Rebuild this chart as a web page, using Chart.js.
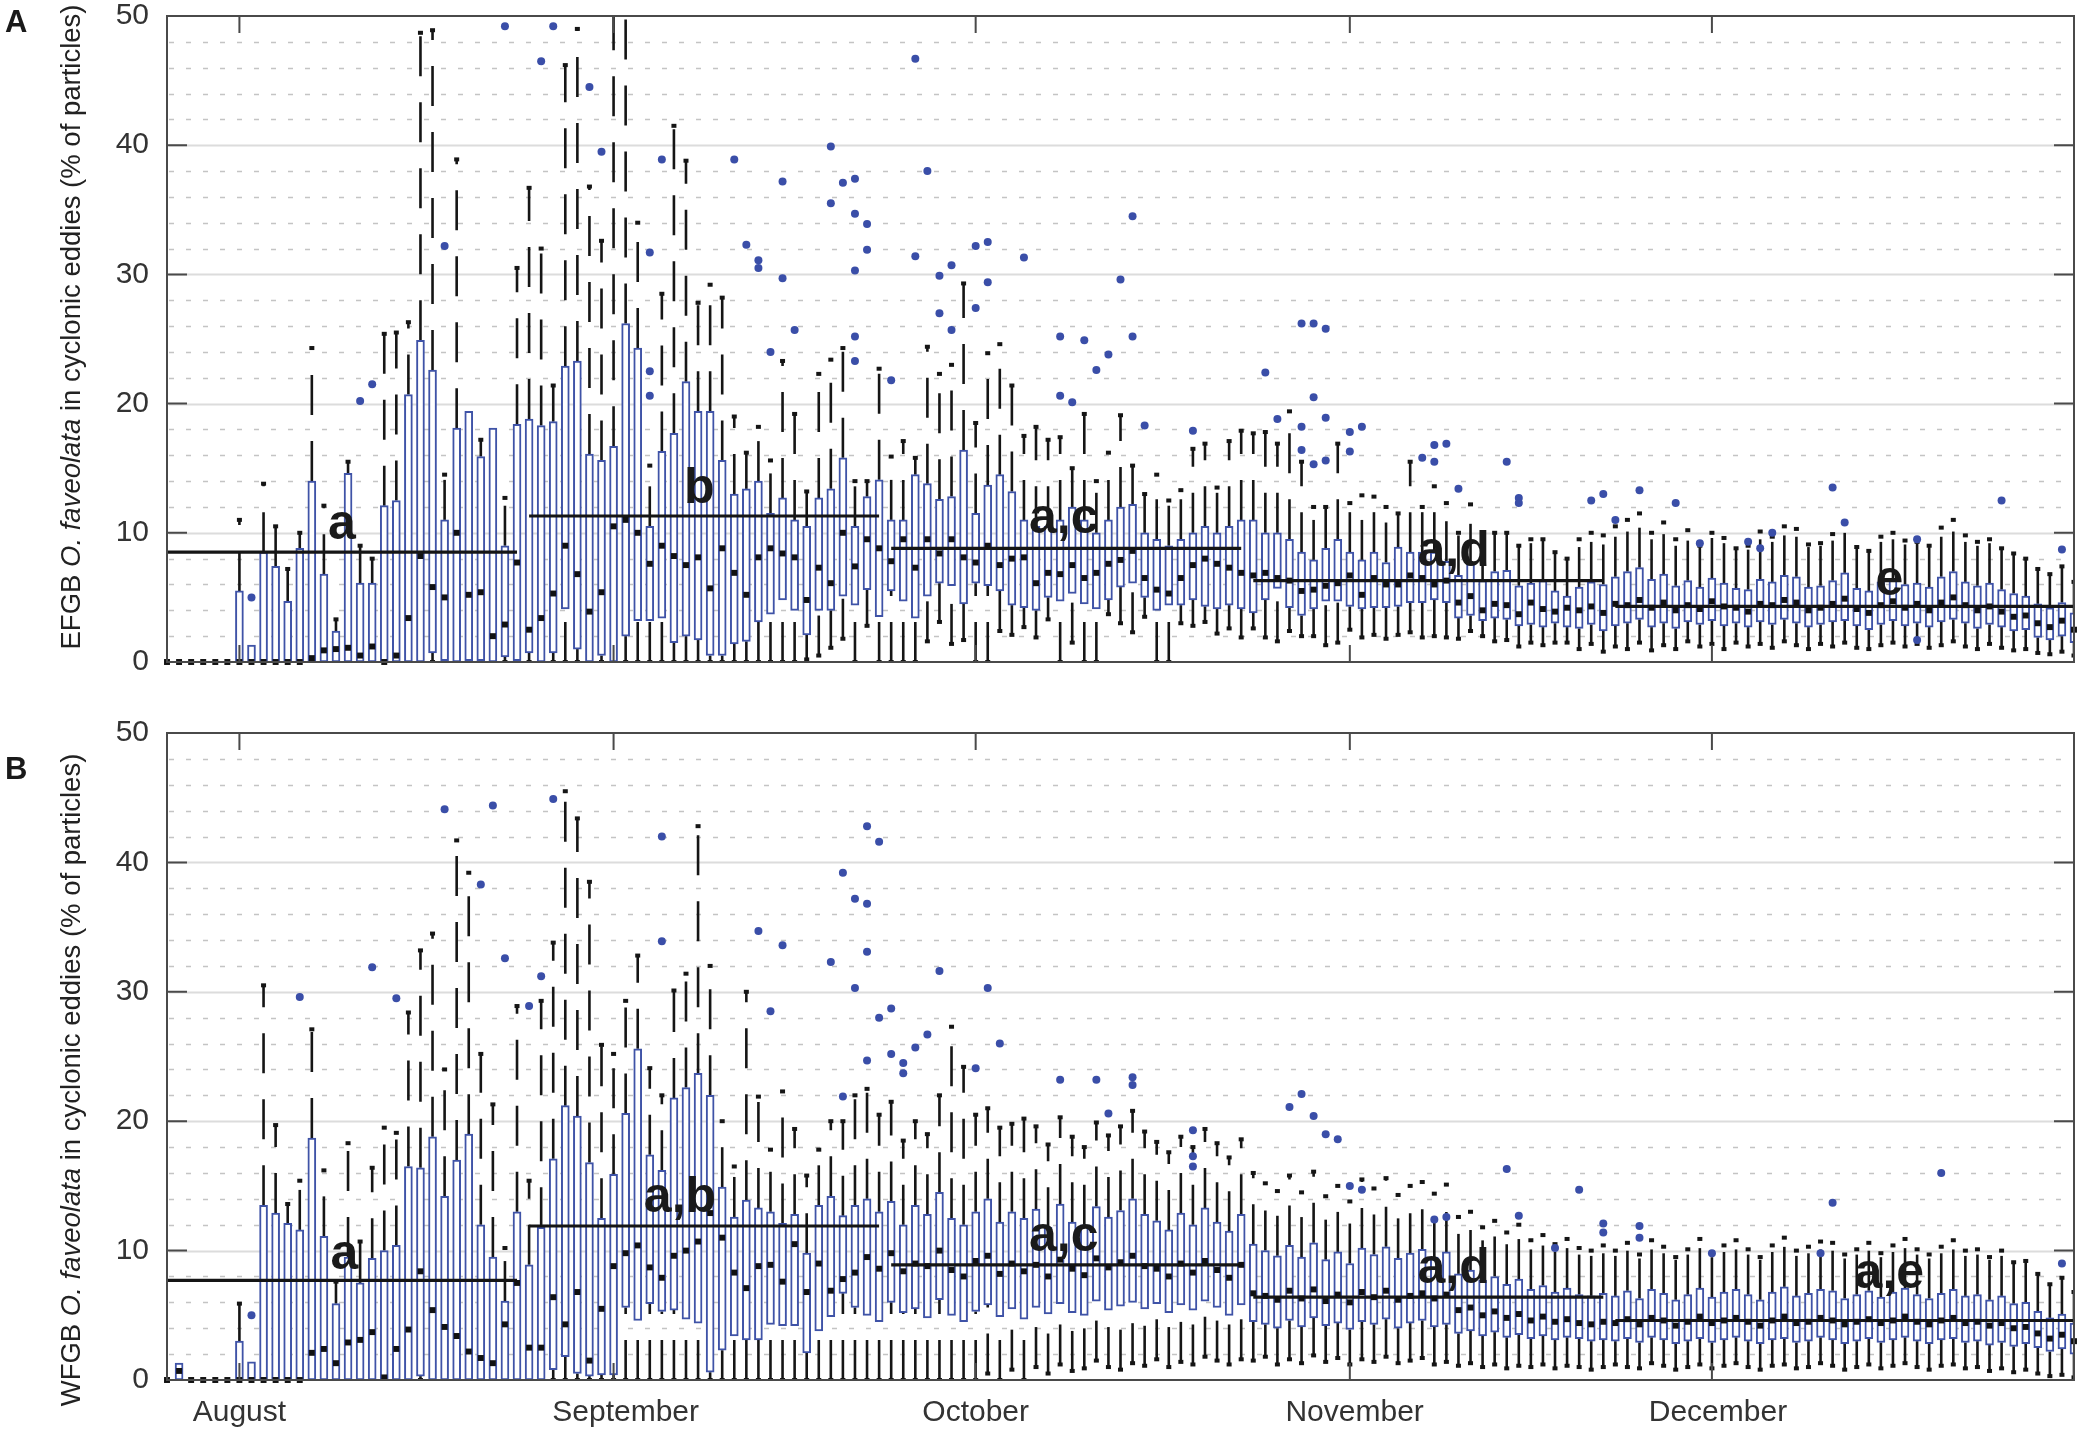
<!DOCTYPE html>
<html>
<head>
<meta charset="utf-8">
<script src="https://cdn.jsdelivr.net/npm/chart.js@4.4.0/dist/chart.umd.min.js"></script>
<style>
  body { margin: 0; background: #fff; width: 2080px; height: 1435px; position: relative; overflow: hidden; }
  canvas { position: absolute; left: 0; }
  #chartA { top: 0; }
  #chartB { top: 690px; }
</style>
</head>
<body>
<canvas id="chartA" width="2080" height="690"></canvas>
<canvas id="chartB" width="2080" height="745"></canvas>
<script>
// days: 26 Jul .. 31 Dec (159 days), index 0 = 26 Jul
const days = Array.from({length: 159}, (_, i) => i);
const monthNames = ['August', 'September', 'October', 'November', 'December'];
const monthStartDay = [6, 37, 67, 98, 128];
const monthLabelDay = [6, 38, 67, 98.4, 128.5];

// 30-day groups and their means / significance letters
const groupStart = [0, 30, 60, 90, 120];
const groupEnd = [29, 59, 89, 119, 158];
const groupMeanA = [8.5, 11.3, 8.8, 6.3, 4.3];
const groupMeanB = [7.7, 11.9, 8.9, 6.4, 4.6];
const groupLetterA = ['a', 'b', 'a,c', 'a,d', 'e'];
const groupLetterB = ['a', 'a,b', 'a,c', 'a,d', 'a,e'];

// ---- panel A: EFGB ----
const aLow = [
  0,0,0,0,0,0,0,0,0,0, 0,0,0,0,0,0,0,0,0,0, 0,0,0,0,0,0,0,0,0,0, 0,0,0,0,0,0,0,0,0,0,
  0,0,0,0,0,0,0,0,0,0, 0,0,0,0.2,0.5,1.1,1.8,0,2.8,0, 0,0,0,1.6,3.1,1.4,1.7,0,0,2.4,
  2.1,2.7,1.9,3.3,0,1.5,0,0,3.7,3.0, 2.3,3.5,0,0,3.0,2.8,3.1,2.2,2.6,1.9,
  2.6,1.9,1.6,2.4,2.0,2.0,1.3,1.5,2.5,1.9, 2.1,1.8,2.1,2.3,1.9,2.0,1.9,1.8,2.4,2.0,
  1.6,1.7,1.2,1.5,1.3,1.5,1.5,1.0,1.4,0.8, 1.2,1.0,1.5,0.9,1.3,1.0,1.6,1.2,1.4,1.0,
  1.5,1.2,1.4,1.1,1.6,1.3,1.0,1.4,1.2,1.5, 1.1,1.0,1.3,1.5,1.2,1.4,1.1,1.3,1.6,1.2,
  1.0,1.4,1.1,0.9,1.0,0.7,0.6,0.8,0.5
];
const aQ1 = [
  0,0,0,0,0,0,0,0,0,0, 0,0,0,0,0,0,0,0,0,0, 0,0,0.7,0.1,0,0.1,0.1,0,0.4,0.1,
  0.7,0,0.7,4.1,1.0,0,0.5,0,2.0,3.2, 3.2,3.4,1.5,2.0,1.7,0.5,0.5,1.4,1.6,3.1,
  3.7,4.8,4.0,2.1,4.0,4.0,5.1,4.4,5.6,3.5, 5.5,4.7,3.4,5.1,6.1,5.9,4.5,6.1,5.9,5.5,
  4.4,4.2,4.0,5.0,4.7,5.3,4.5,4.1,4.8,5.8, 6.1,5.0,4.0,4.4,4.4,4.8,4.3,4.1,4.4,4.1,
  3.8,4.8,5.7,4.2,3.6,4.1,4.7,4.7,4.3,4.1, 4.2,4.2,4.3,4.6,4.6,4.8,4.6,3.4,3.6,3.2,
  3.4,3.3,2.8,2.9,2.7,3.0,2.7,2.6,2.9,2.4, 2.8,3.0,3.3,2.7,3.0,2.6,3.1,2.9,3.2,2.8,
  3.0,2.7,3.1,2.9,3.3,3.0,2.7,2.9,3.1,3.2, 2.8,2.5,2.9,3.2,2.8,3.0,2.7,3.1,3.3,3.0,
  2.6,2.9,2.7,2.4,2.5,1.9,1.7,2.0,1.5
];
const aMed = [
  0,0,0,0,0,0,0,0,0,0, 0,0,0.3,0.9,1.0,1.1,0.5,1.2,0,0.5, 3.4,8.2,5.8,5.0,10.0,5.2,5.4,2.0,2.9,7.7,
  2.5,3.4,5.3,9.0,6.8,3.9,5.4,10.5,11.0,10.0, 7.6,9.0,8.2,7.5,8.1,5.7,8.8,6.9,5.2,8.1,
  8.8,8.4,8.1,4.8,7.3,6.1,10.0,7.4,9.5,8.8, 7.8,9.5,7.3,9.5,8.4,9.5,8.1,7.7,9.0,7.5,
  8.0,8.1,6.1,6.9,6.8,7.5,6.5,6.9,7.6,7.9, 8.6,6.5,5.6,5.3,6.5,7.5,8.0,7.6,7.3,6.9,
  6.7,6.9,6.5,6.3,5.5,5.6,5.9,6.1,6.7,5.2, 6.5,6.0,6.0,6.7,6.5,6.0,6.3,4.6,5.1,4.0,
  4.5,4.4,3.7,4.6,4.1,3.9,4.2,4.0,4.3,3.8, 4.5,4.4,4.8,4.2,4.6,4.0,4.4,4.1,4.7,4.3,
  4.2,3.9,4.5,4.4,4.8,4.6,4.0,4.2,4.5,4.9, 4.1,3.8,4.4,4.7,4.2,4.5,4.0,4.6,5.0,4.4,
  4.0,4.3,3.9,3.5,3.6,3.0,2.7,3.2,2.5
];
const aQ3 = [
  0,0,0,0,0,0,5.5,1.3,8.5,7.4, 4.7,8.8,14.0,6.8,2.4,14.6,6.1,6.1,12.1,12.5,
  20.7,24.9,22.6,11.0,18.1,19.4,15.9,18.1,9.0,18.4, 18.8,18.3,18.6,22.9,23.3,16.1,15.6,16.7,26.2,24.3,
  10.5,16.3,17.7,21.7,19.4,19.4,15.6,13.0,13.4,14.0, 11.5,12.7,11.0,10.5,12.7,13.4,15.8,10.5,12.8,14.1,
  11.0,11.0,14.5,13.8,12.6,12.8,16.4,11.5,13.7,14.5, 13.2,11.0,10.5,10.5,11.0,12.0,11.0,10.0,11.0,12.0,
  12.2,10.0,9.5,9.0,9.5,10.0,10.5,10.0,10.5,11.0, 11.0,10.0,10.0,9.5,8.5,7.9,8.8,9.5,8.5,7.9,
  8.5,7.7,8.9,8.5,8.5,8.5,7.8,6.7,7.6,6.3, 7.0,7.1,5.9,6.1,6.3,5.5,5.1,5.8,6.2,6.0,
  6.6,7.0,7.3,6.4,6.8,5.9,6.3,5.8,6.5,6.1, 5.7,5.6,6.4,6.2,6.7,6.6,5.8,5.9,6.3,6.9,
  5.7,5.5,6.2,6.4,6.0,6.1,5.8,6.6,7.0,6.2, 5.9,6.1,5.6,5.3,5.1,4.5,4.2,4.6,3.8
];
const aHigh = [
  0,0,0,0,0,0,11.0,1.3,13.8,10.5, 7.2,10.0,24.3,12.1,3.3,15.5,9.0,8.0,25.4,25.5,
  26.3,48.7,48.9,14.5,38.9,19.4,17.2,18.1,12.7,30.5, 36.7,32.0,21.4,46.2,49.0,36.8,32.6,55,55,34.0,
  15.2,28.5,41.5,38.8,27.8,29.2,28.2,19.0,16.2,18.2, 15.6,23.3,19.2,13.2,22.3,23.4,24.3,14.0,14.0,22.7,
  15.9,17.1,15.8,24.4,22.3,23.0,29.3,18.5,23.9,24.6, 21.4,17.5,18.2,17.2,17.4,15.0,19.2,14.0,16.2,19.1,
  15.2,13.0,14.5,12.5,13.3,16.5,16.9,13.5,17.1,17.9, 17.7,17.8,16.9,19.4,15.5,12.0,12.0,16.9,12.3,12.9,
  12.8,12.0,11.5,15.5,12.0,13.6,12.3,10.0,12.2,9.5, 10.0,10.0,9.0,9.5,9.5,8.5,8.0,9.5,10.0,9.8,
  10.5,11.0,11.5,10.0,10.8,9.5,10.2,9.0,10.0,9.6, 8.8,9.0,10.1,9.7,10.5,10.3,9.1,9.2,9.9,10.8,
  8.9,8.6,9.7,10.0,9.4,9.3,9.0,10.4,11.0,9.8, 9.3,9.5,8.8,8.4,8.0,7.2,6.8,7.4,6.2
];
const aOutDay = [7,16,17,23,28,31,32,35,36,40,40,40,41,47,48,49,49,50,51,51,52,55,55,56,57,57,57,57,57,58,58,
  60,62,62,63,64,64,65,65,67,67,68,68,71,74,74,75,76,77,78,79,80,80,81,85,91,92,94,94,94,95,95,95,96,96,96,
  98,98,99,104,105,105,106,107,111,112,112,118,119,120,122,125,127,131,132,133,138,139,145,145,152,157];
const aOutVal = [5.0,20.2,21.5,32.2,49.2,46.5,49.2,44.5,39.5,31.7,22.5,20.6,38.9,38.9,32.3,31.1,30.5,24.0,37.2,29.7,25.7,39.9,35.5,37.1,37.4,34.7,30.3,25.2,23.3,33.9,31.9,
  21.8,46.7,31.4,38.0,29.9,27.0,30.7,25.7,32.2,27.4,32.5,29.4,31.3,25.2,20.6,20.1,24.9,22.6,23.8,29.6,34.5,25.2,18.3,17.9,22.4,18.8,26.2,18.2,16.4,26.2,20.5,15.3,25.8,18.9,15.6,
  17.8,16.3,18.2,15.8,16.8,15.5,16.9,13.4,15.5,12.7,12.3,12.5,13.0,11.0,13.3,12.3,9.2,9.3,8.8,10.0,13.5,10.8,1.7,9.5,12.5,8.7];

// ---- panel B: WFGB ----
const bLow = [
  0,0,0,0,0,0,0,0,0,0, 0,0,0,0,0,0,0,0,0,0, 0,0,0,0,0,0,0,0,0,0, 0,0,0,0,0,0,0,0,0,0,
  0,0,0,0,0,0,0,0,0,0, 0,0,0,0,0,0,0,0,0,0, 0,0,0,0,0,0,0,0,0.5,0,
  0.8,0,1.0,0.5,1.2,0.7,0.9,1.5,1.0,0.8, 1.3,1.1,1.6,1.0,1.4,1.2,1.8,1.5,1.2,1.6,
  1.5,1.8,1.2,1.6,1.3,1.9,1.4,1.7,1.2,1.6, 1.4,1.8,1.3,1.5,1.7,1.2,1.4,1.1,1.3,1.0,
  1.2,0.9,1.1,1.0,1.2,0.9,1.1,1.0,0.8,1.0, 1.2,1.0,0.9,1.3,1.1,0.8,1.0,1.2,0.9,1.1,
  1.3,1.0,0.8,1.1,1.2,0.9,1.0,1.3,1.1,0.8, 1.0,1.2,0.9,1.1,1.3,1.0,0.8,1.1,1.2,0.9,
  1.0,0.7,0.9,0.6,0.8,0.5,0.3,0.4,0.2
];
const bQ1 = [
  0,0,0,0,0,0,0,0,0,0, 0,0,0,0,0,0,0,0,0,0, 0,0.3,0,0,0,0,0,0,0,0,
  0,0,0.8,1.8,0.5,0.3,0.4,0.4,5.6,4.6, 5.9,5.3,5.4,4.7,4.4,0.6,2.3,3.4,3.1,3.1,
  4.3,4.2,4.2,2.1,3.8,4.9,6.7,5.6,5.0,4.5, 6.0,5.2,5.5,4.8,6.2,5.0,4.5,5.3,5.8,4.9,
  5.5,4.7,5.6,5.1,5.9,5.2,5.0,6.1,5.4,5.7, 6.0,5.5,5.9,5.2,5.8,5.4,6.1,5.6,5.0,5.8,
  4.5,4.3,4.0,4.6,4.1,4.8,4.2,4.4,3.9,4.5, 4.3,4.7,4.0,4.4,4.6,4.1,4.3,3.6,3.8,3.4,
  3.7,3.3,3.5,3.2,3.4,3.1,3.3,3.2,3.0,3.1, 3.0,3.2,2.9,3.3,3.1,2.8,3.0,3.2,2.9,3.1,
  3.3,3.0,2.8,3.1,3.2,2.9,3.0,3.3,3.1,2.8, 3.0,3.2,2.9,3.1,3.3,3.0,2.8,3.1,3.2,2.9,
  3.0,2.7,2.9,2.6,2.8,2.5,2.2,2.4,2.0
];
const bMed = [
  0,0.7,0,0,0,0,0,0,0,0, 0,0,2.1,2.4,1.3,2.9,3.1,3.7,0.2,2.4, 3.9,8.4,5.4,4.1,3.4,2.2,1.7,1.3,4.3,7.5,
  2.5,2.5,6.4,4.3,6.8,1.5,5.5,8.8,9.8,10.4, 8.7,7.9,9.6,10.0,10.7,12.9,11.0,8.3,7.1,8.8,
  8.9,7.6,10.5,6.8,9.0,6.9,7.8,8.3,9.5,8.6, 9.8,8.4,9.0,8.8,10.0,8.5,8.0,9.2,9.6,8.2,
  9.0,8.4,8.9,8.0,9.3,8.6,8.1,9.4,8.7,9.1, 9.6,8.8,8.6,8.0,9.0,8.3,9.2,8.5,7.9,8.9,
  6.7,6.5,6.2,6.9,6.3,7.0,6.1,6.6,6.0,6.8, 6.4,6.9,6.2,6.5,6.7,6.3,6.6,5.4,5.6,5.0,
  5.3,4.8,5.1,4.6,4.9,4.5,4.7,4.4,4.3,4.5, 4.4,4.7,4.3,4.8,4.6,4.2,4.5,4.9,4.4,4.6,
  4.8,4.5,4.2,4.6,4.9,4.4,4.5,4.8,4.6,4.3, 4.5,4.7,4.4,4.6,4.9,4.5,4.3,4.6,4.8,4.4,
  4.5,4.2,4.4,4.0,4.1,3.6,3.2,3.5,3.0
];
const bQ3 = [
  0,1.3,0,0,0,0,3.0,1.4,13.5,12.9, 12.1,11.6,18.7,11.1,5.9,9.5,7.5,9.4,10.0,10.4,
  16.5,16.4,18.8,14.2,17.0,19.0,12.0,9.5,6.1,13.0, 8.9,11.8,17.1,21.2,20.4,16.8,12.5,15.9,20.6,25.6,
  17.4,16.2,21.8,22.6,23.7,22.0,14.9,12.6,13.9,13.3, 13.0,12.1,12.8,9.8,13.5,14.2,12.7,13.5,14.0,13.0,
  13.8,12.0,13.5,12.8,14.5,12.5,12.0,13.0,14.0,12.2, 13.0,12.5,13.2,11.8,13.6,12.2,12.0,13.4,12.6,13.1,
  14.0,12.8,12.3,11.6,12.9,12.0,13.3,12.2,11.5,12.8, 10.5,10.0,9.6,10.4,9.5,10.6,9.3,9.9,9.0,10.2,
  9.7,10.3,9.4,9.8,10.1,9.5,9.9,8.2,8.5,7.7, 8.0,7.4,7.8,7.0,7.3,6.8,7.1,6.6,6.5,6.7,
  6.5,6.9,6.3,7.0,6.7,6.2,6.6,7.1,6.4,6.8, 7.0,6.6,6.2,6.8,7.2,6.5,6.7,7.0,6.9,6.3,
  6.6,6.9,6.4,6.8,7.1,6.6,6.3,6.7,7.0,6.5, 6.6,6.2,6.5,5.9,6.0,5.3,4.8,5.1,4.4
];
const bHigh = [
  0,1.3,0,0,0,0,5.9,1.4,30.5,19.7, 13.6,15.4,27.1,16.2,7.6,18.3,10.7,16.4,19.5,19.1,
  28.4,33.2,34.5,24.0,41.7,39.2,25.2,21.3,10.2,28.9, 15.4,29.3,33.8,45.5,43.4,38.5,25.9,25.2,29.3,32.8,
  24.1,22.0,30.1,31.4,42.8,32.0,20.0,16.5,30.0,21.9, 17.8,22.3,19.4,15.8,17.8,20.0,20.0,22.0,22.5,20.5,
  21.5,18.5,20.0,19.0,22.0,27.3,24.2,20.5,21.0,19.5, 19.8,20.2,19.6,18.2,20.3,18.8,18.0,19.9,18.9,19.6,
  20.8,19.2,18.4,17.6,18.8,18.0,19.4,18.3,17.2,18.6, 16.0,15.2,14.6,15.8,14.5,16.1,14.2,15.0,13.8,15.5,
  14.8,15.6,14.3,15.0,15.3,14.4,15.1,12.6,13.0,11.8, 12.3,11.4,12.0,10.8,11.2,10.5,10.9,10.2,10.0,10.4,
  10.0,10.6,9.7,10.8,10.3,9.5,10.1,10.9,9.8,10.4, 10.8,10.1,9.5,10.4,11.0,10.0,10.3,10.7,10.6,9.7,
  10.1,10.6,9.8,10.4,10.9,10.1,9.7,10.3,10.8,10.0, 10.1,9.5,10.0,9.1,9.2,8.2,7.4,7.9,6.8
];
const bOutDay = [7,11,17,19,23,26,27,28,30,31,32,41,41,49,50,51,55,56,56,57,57,58,58,58,58,59,59,60,60,61,61,62,63,64,67,68,69,
  74,77,78,80,80,85,85,85,93,94,95,96,97,98,99,105,106,111,112,115,117,119,119,122,122,128,137,138,147,157];
const bOutVal = [5.0,29.6,31.9,29.5,44.1,38.3,44.4,32.6,28.9,31.2,44.9,42.0,33.9,34.7,28.5,33.6,32.3,39.2,21.9,37.2,30.3,42.8,36.8,33.1,24.7,41.6,28.0,28.7,25.2,24.5,23.7,25.7,26.7,31.6,24.1,30.3,26.0,
  23.2,23.2,20.6,23.4,22.8,19.3,17.3,16.5,21.1,22.1,20.4,19.0,18.6,15.0,14.7,12.4,12.6,16.3,12.7,10.2,14.7,12.1,11.4,11.9,11.0,9.8,9.8,13.7,16.0,9.0];

const FONT = '"Liberation Sans", Arial, Helvetica, sans-serif';
const BOX_BLUE = '#3f53a7';
const DOT_BLUE = '#3a4ea8';

const decor = {
  id: 'decor',
  beforeDatasetsDraw(chart, args, o) {
    const {ctx, chartArea: a, scales: {x, y}} = chart;
    ctx.save();
    // grid: solid majors, dotted minors
    for (let v = 2; v < 50; v += 2) {
      const py = Math.round(y.getPixelForValue(v)) + 0.5;
      ctx.beginPath();
      if (v % 10 === 0) { ctx.setLineDash([]); ctx.strokeStyle = '#dcdcdc'; ctx.lineWidth = 2; }
      else { ctx.setLineDash([5, 12]); ctx.strokeStyle = '#c4c4c4'; ctx.lineWidth = 1.6; }
      ctx.moveTo(a.left + 2, py); ctx.lineTo(a.right, py); ctx.stroke();
    }
    // whiskers, dashed from lower end up
    ctx.beginPath(); ctx.rect(a.left, a.top, a.right - a.left, a.bottom - a.top); ctx.clip();
    ctx.strokeStyle = '#151515'; ctx.fillStyle = '#151515'; ctx.lineWidth = 2.6;
    ctx.setLineDash([40, 26]);
    const p = o.panel;
    days.forEach(i => {
      const px = x.getPixelForValue(i);
      if (p.low[i] < p.q1[i]) {
        ctx.beginPath(); ctx.moveTo(px, y.getPixelForValue(p.low[i])); ctx.lineTo(px, y.getPixelForValue(p.q1[i])); ctx.stroke();
        ctx.fillRect(px - 2.5, y.getPixelForValue(p.low[i]) - 2, 5, 4);
      }
      if (p.high[i] > p.q3[i]) {
        ctx.beginPath(); ctx.moveTo(px, y.getPixelForValue(p.q3[i])); ctx.lineTo(px, y.getPixelForValue(p.high[i])); ctx.stroke();
        ctx.fillRect(px - 2.5, y.getPixelForValue(p.high[i]) - 2, 5, 4);
      }
    });
    ctx.restore();
  },
  afterDatasetsDraw(chart, args, o) {
    const {ctx, chartArea: a, scales: {x, y}} = chart;
    ctx.save();
    // frame and inward ticks
    ctx.strokeStyle = '#4a4a4a'; ctx.lineWidth = 2;
    ctx.strokeRect(a.left, a.top, a.right - a.left, a.bottom - a.top);
    ctx.beginPath();
    [0, 10, 20, 30, 40, 50].forEach(v => {
      const py = y.getPixelForValue(v);
      ctx.moveTo(a.left, py); ctx.lineTo(a.left + 20, py);
      ctx.moveTo(a.right, py); ctx.lineTo(a.right - 20, py);
    });
    monthStartDay.forEach(d => {
      const px = x.getPixelForValue(d);
      ctx.moveTo(px, a.top); ctx.lineTo(px, a.top + 17);
      ctx.moveTo(px, a.bottom); ctx.lineTo(px, a.bottom - 17);
    });
    ctx.stroke();
    // month labels (bottom panel only)
    if (o.showMonths) {
      ctx.fillStyle = '#333'; ctx.font = '30px ' + FONT;
      ctx.textAlign = 'center'; ctx.textBaseline = 'middle';
      monthNames.forEach((m, k) => ctx.fillText(m, x.getPixelForValue(monthLabelDay[k]), a.bottom + 33));
    }
    // group letters
    ctx.fillStyle = '#1a1a1a';
    ctx.font = 'bold 50px ' + FONT;
    ctx.textAlign = 'center'; ctx.textBaseline = 'alphabetic';
    o.letters.forEach((t, k) => {
      ctx.fillText(t, x.getPixelForValue(o.letterDay[k]), y.getPixelForValue(o.letterY[k]));
    });
    // panel letter
    ctx.textAlign = 'left';
    ctx.font = 'bold 31px ' + FONT;
    ctx.fillText(o.tag, 5, o.tagY);
    // y title with italic species name
    const parts = [[o.site + ' ', 'normal'], ['O. faveolata', 'italic'], [' in cyclonic eddies (% of particles)', 'normal']];
    const fs = 27.5;
    let total = 0;
    parts.forEach(pt => { ctx.font = pt[1] + ' ' + fs + 'px ' + FONT; pt.w = ctx.measureText(pt[0]).width; total += pt.w; });
    ctx.translate(72, o.titleY);
    ctx.rotate(-Math.PI / 2);
    ctx.textBaseline = 'middle'; ctx.fillStyle = '#222';
    let cx = -total / 2;
    parts.forEach(pt => { ctx.font = pt[1] + ' ' + fs + 'px ' + FONT; ctx.fillText(pt[0], cx, 0); cx += pt.w; });
    ctx.restore();
  }
};

function buildChart(id, p, opt) {
  const datasets = [{
    type: 'bar',
    data: p.q1.map((v, i) => p.q3[i] > v ? [v, p.q3[i]] : null),
    backgroundColor: '#ffffff', borderColor: BOX_BLUE, borderWidth: 2,
    barThickness: 8, borderSkipped: false, order: 6
  }];
  groupStart.forEach((s, g) => {
    datasets.push({
      type: 'line',
      data: days.map(d => (d >= s && d <= groupEnd[g]) ? p.mean[g] : null),
      borderColor: '#151515', borderWidth: 3.2, pointRadius: 0, spanGaps: false, order: 4
    });
  });
  datasets.push({
    type: 'line', showLine: false, data: p.med,
    pointStyle: 'rect', pointRadius: 4.2, pointBackgroundColor: '#111', pointBorderWidth: 0,
    clip: false, order: 2
  });
  datasets.push({
    type: 'scatter', data: p.outDay.map((d, k) => ({x: d, y: p.outVal[k]})),
    pointRadius: 4, pointBackgroundColor: DOT_BLUE, pointBorderWidth: 0, clip: false, order: 1
  });
  return new Chart(document.getElementById(id), {
    type: 'bar',
    data: {labels: days, datasets},
    plugins: [decor],
    options: {
      responsive: false, animation: false, events: [],
      layout: {padding: {left: 0, right: 6, top: opt.padTop, bottom: 0}},
      plugins: {
        legend: {display: false}, tooltip: {enabled: false},
        decor: {panel: p, letters: opt.letters, letterDay: opt.letterDay, letterY: opt.letterY,
                tag: opt.tag, tagY: opt.tagY, site: opt.site, titleY: opt.titleY, showMonths: opt.showMonths}
      },
      scales: {
        x: {
          type: 'category', offset: false,
          grid: {display: false}, border: {display: false},
          afterFit: s => { s.height = opt.xHeight; s.paddingLeft = 0; s.paddingRight = 0; },
          ticks: {display: false}
        },
        y: {
          min: 0, max: 50,
          grid: {display: false}, border: {display: false},
          afterFit: s => { s.width = 167; s.paddingTop = 0; s.paddingBottom = 0; },
          ticks: {stepSize: 10, padding: 10, color: '#333', font: {size: 30, family: FONT}}
        }
      }
    }
  });
}

buildChart('chartA',
  {low: aLow, q1: aQ1, med: aMed, q3: aQ3, high: aHigh, outDay: aOutDay, outVal: aOutVal, mean: groupMeanA},
  {padTop: 16, xHeight: 28, showMonths: false, tag: 'A', tagY: 32, site: 'EFGB', titleY: 327,
   letters: groupLetterA, letterDay: [14.5, 44.1, 74.3, 106.6, 142.7], letterY: [9.5, 12.3, 10.0, 7.4, 5.2]});
buildChart('chartB',
  {low: bLow, q1: bQ1, med: bMed, q3: bQ3, high: bHigh, outDay: bOutDay, outVal: bOutVal, mean: groupMeanB},
  {padTop: 43, xHeight: 55, showMonths: true, tag: 'B', tagY: 89, site: 'WFGB', titleY: 390,
   letters: groupLetterB, letterDay: [14.7, 42.5, 74.3, 106.6, 142.7], letterY: [8.6, 13.0, 10.0, 7.5, 7.1]});
</script>
</body>
</html>
